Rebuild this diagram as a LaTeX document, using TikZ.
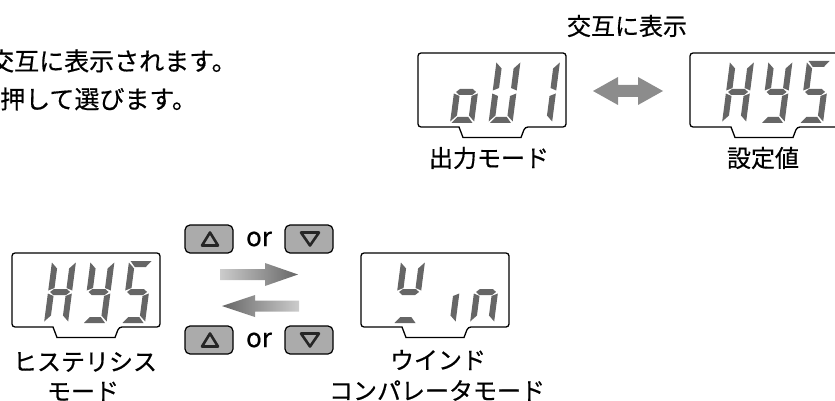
\documentclass[tikz,border=0pt]{standalone}
\usepackage{fontspec}
\setmainfont{Noto Sans CJK JP}
\newfontfamily\jpf{Noto Sans CJK JP}[FakeBold=0.5]
\begin{document}
\begin{tikzpicture}[x=1pt,y=-1pt,
  lcd/.style={line width=1.3pt, rounded corners=3pt},
  segfill/.style={fill=black!60},
  btn/.style={draw, line width=1.2pt, fill=black!33, rounded corners=5pt, minimum width=48pt, minimum height=28pt, inner sep=0pt},
  tri/.style={draw=black!85, line width=2.6pt, line join=round},
  jtext/.style={inner sep=0pt, font=\jpf\fontsize{24}{28}\selectfont},
  btext/.style={inner sep=0pt, font=\jpf\fontsize{25}{30}\selectfont},
  ortext/.style={inner sep=0pt, font=\jpf\fontsize{26}{30}\selectfont},
]
\useasboundingbox (0,0) rectangle (835,401);

% LCD frame: #1 = left, #2 = top
\newcommand\lcdframe[2]{%
  \draw[lcd] (#1+41,#2+74) -- (#1,#2+74) -- (#1,#2) -- (#1+148,#2) -- (#1+148,#2+74) -- (#1+107,#2+74) [sharp corners] -- (#1+103,#2+84.5) -- (#1+45,#2+84.5) -- cycle;}
% segments in local (u,v), v upward
\newcommand\sega{\fill[segfill] (1.5,62) -- (22.5,62) -- (17.5,56) -- (6.5,56) -- cycle;}
\newcommand\segg{\fill[segfill] (2,31) -- (5.5,34) -- (18.5,34) -- (22,31) -- (18.5,28) -- (5.5,28) -- cycle;}
\newcommand\segd{\fill[segfill] (1.5,0) -- (22.5,0) -- (17.5,6) -- (6.5,6) -- cycle;}
\newcommand\segf{\fill[segfill] (0,60.5) -- (6,54.5) -- (6,35) -- (0,32.5) -- cycle;}
\newcommand\segb{\fill[segfill] (24,60.5) -- (24,32.5) -- (18,35) -- (18,54.5) -- cycle;}
\newcommand\sege{\fill[segfill] (0,29.5) -- (6,27) -- (6,7.5) -- (0,1.5) -- cycle;}
\newcommand\segc{\fill[segfill] (24,29.5) -- (24,1.5) -- (18,7.5) -- (18,27) -- cycle;}
% digit: #1 = x0, #2 = bottom y, #3 = segment list
\newcommand\lcddigit[3]{%
  \begin{scope}[shift={(#1,#2)}, y=1pt, xslant=0.13]
    \foreach \s in {#3} {\csname seg\s\endcsname}
  \end{scope}}

% ---- top-left text
\node[btext, anchor=west] (body1) at (-11,61) {交互に表示されます。};
\node[btext, anchor=west] (body2) at (0,99) {押して選びます。};

% ---- top displays
\node[jtext] (lblalt) at (627,26) {交互に表示};
\lcdframe{418}{53}
\lcddigit{450}{123}{c,d,e,g}
\lcddigit{488.5}{123}{b,c,d,e,f}
\lcddigit{528}{123}{b,c}
\lcdframe{690}{53}
\lcddigit{722}{123}{b,c,e,f,g}
\lcddigit{760.5}{123}{b,c,d,f,g}
\lcddigit{799}{123}{a,c,d,f,g}
\node[jtext] (lblout) at (489,158) {出力モード};
\node[jtext] (lblset) at (763,158) {設定値};

% double arrow
\shade[left color=black!45, middle color=black!10, right color=black!45]
  (593,91) -- (618,77) -- (618,85) -- (638,85) -- (638,77) -- (663,91) -- (638,105) -- (638,97) -- (618,97) -- (618,105) -- cycle;

% ---- bottom displays
\lcdframe{12}{253}
\lcddigit{44}{323}{b,c,e,f,g}
\lcddigit{82.5}{323}{b,c,d,f,g}
\lcddigit{121}{323}{a,c,d,f,g}
\node[jtext] (lblhys1) at (85,362) {ヒステリシス};
\node[jtext] (lblhys2) at (83,391.5) {モード};

\lcdframe{361}{253}
\lcddigit{393}{323}{f,b,g,d}
\lcddigit{431.5}{323}{c}
\lcddigit{470}{323}{e,g,c}
\node[jtext] (lblwin1) at (438,360) {ウインド};
\node[jtext] (lblwin2) at (437,390.5) {コンパレータモード};

% buttons
\node[btn] (bup1) at (209,239) {};
\node[btn] (bdn1) at (309,239) {};
\node[btn] (bup2) at (209,340) {};
\node[btn] (bdn2) at (309,340) {};
\foreach \b in {bup1,bup2} {
  \draw[tri] ([shift={(1,-6.5)}]\b.center) -- ([shift={(9,6.5)}]\b.center) -- ([shift={(-7,6.5)}]\b.center) -- cycle;}
\foreach \b in {bdn1,bdn2} {
  \draw[tri] ([shift={(-8,-6.5)}]\b.center) -- ([shift={(10,-6.5)}]\b.center) -- ([shift={(1,6.5)}]\b.center) -- cycle;}
\node[ortext] (or1) at (259,239) {or};
\node[ortext] (or2) at (259,340) {or};

% switching arrows
\shade[left color=black!20, right color=black!60]
  (220,269) -- (265,269) -- (265,263) -- (298,274.5) -- (265,286) -- (265,280) -- (220,280) -- cycle;
\shade[left color=black!60, right color=black!20]
  (222,306) -- (255,295) -- (255,300.5) -- (299,300.5) -- (299,311.5) -- (255,311.5) -- (255,317) -- cycle;
\end{tikzpicture}
\end{document}
